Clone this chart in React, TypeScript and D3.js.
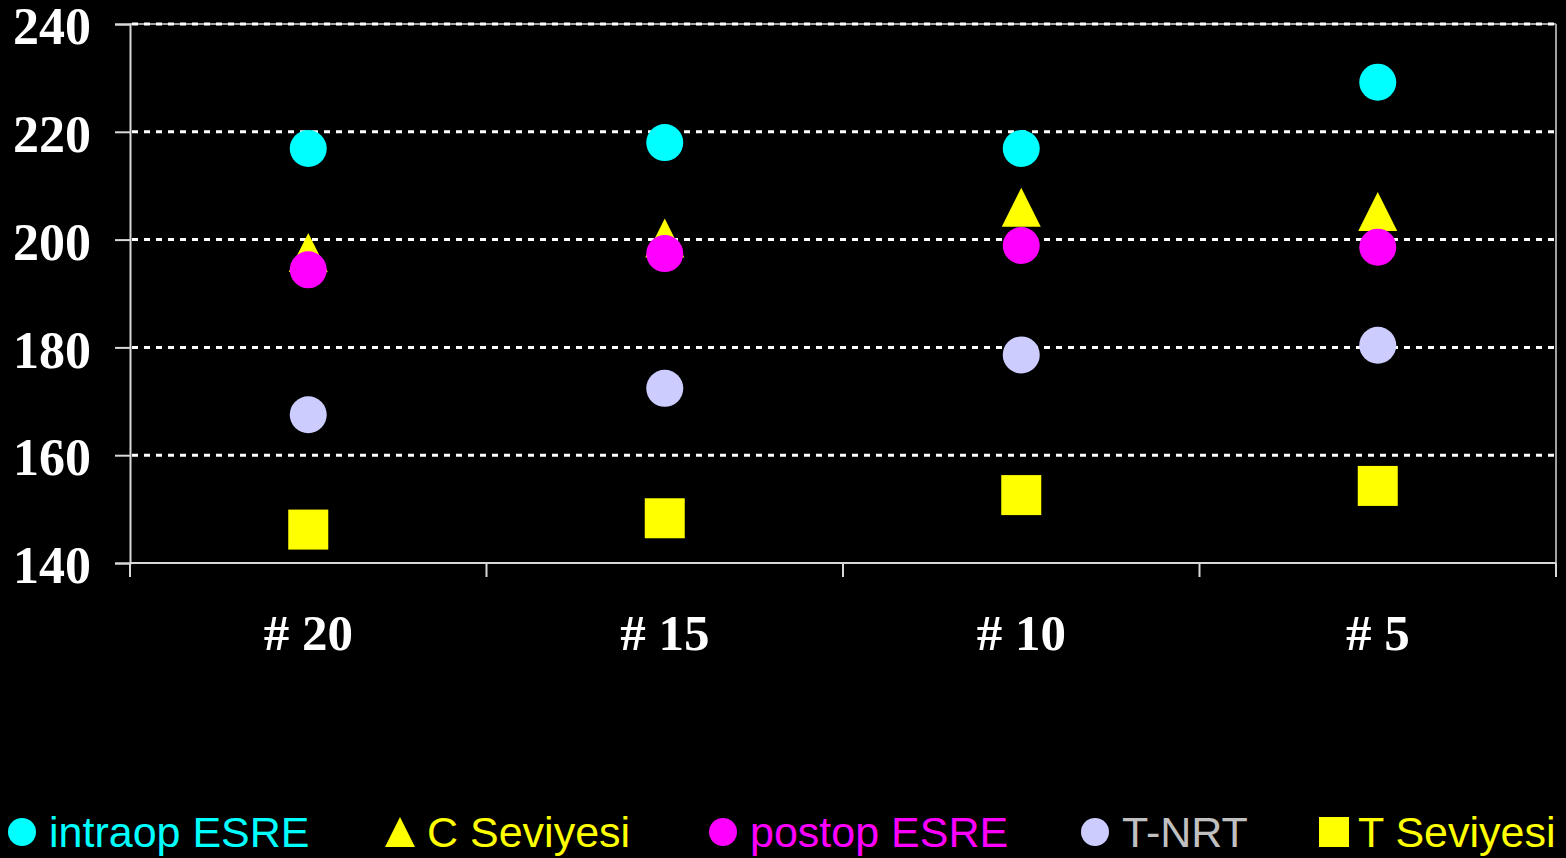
import React, { useRef, useEffect } from 'react';
import * as d3 from 'd3';

// Categories and series
const categories = ["# 20", "# 15", "# 10", "# 5"];
const yTicks = [140, 160, 180, 200, 220, 240];

const intraopESRE = [216.9, 218.0, 216.9, 229.2];
const cSeviyesi = [197.6, 200.3, 206.0, 205.2];
const postopESRE = [194.4, 197.4, 198.9, 198.6];
const tNRT = [167.5, 172.4, 178.6, 180.4];
const tSeviyesi = [146.2, 148.3, 152.6, 154.3];

const seriesNames = ["intraop ESRE", "C Seviyesi", "postop ESRE", "T-NRT", "T Seviyesi"];
const seriesValues = [intraopESRE, cSeviyesi, postopESRE, tNRT, tSeviyesi];
const seriesShapes = ["circle", "triangle", "circle", "circle", "square"];
const seriesColors = ["#00ffff", "#ffff00", "#ff00ff", "#ccccff", "#ffff00"];
const legendTextColors = ["#00ffff", "#ffff00", "#ff00ff", "#c0c0c0", "#ffff00"];

export default function App() {
  const svgRef = useRef<SVGSVGElement | null>(null);

  useEffect(() => {
    if (!svgRef.current) return;
    const svg = d3.select(svgRef.current);
    svg.selectAll("*").remove();

    const width = 1566;
    const height = 858;
    const margin = { top: 24, right: 10, bottom: 295, left: 130 };
    const axisColor = "#d8d8d8";

    svg.attr("width", width).attr("height", height);
    svg.append("rect").attr("width", width).attr("height", height).attr("fill", "#000");

    const x = d3.scaleBand()
      .domain(categories)
      .range([margin.left, width - margin.right])
      .padding(0);

    const y = d3.scaleLinear()
      .domain([140, 240])
      .range([height - margin.bottom, margin.top]);

    const x0 = margin.left;
    const x1 = width - margin.right;
    const yBottom = y(140);
    const yTop = y(240);

    // plot frame (top and right)
    svg.append("line")
      .attr("x1", x0).attr("x2", x1).attr("y1", yTop).attr("y2", yTop)
      .attr("stroke", "#a0a0a0").attr("stroke-width", 2);
    svg.append("line")
      .attr("x1", x1).attr("x2", x1).attr("y1", yTop).attr("y2", yBottom)
      .attr("stroke", "#a0a0a0").attr("stroke-width", 2);

    // dotted gridlines
    svg.append("g")
      .selectAll("line")
      .data(yTicks.filter(t => t !== 140))
      .enter()
      .append("line")
      .attr("x1", x0 + 2)
      .attr("x2", x1)
      .attr("y1", d => y(d))
      .attr("y2", d => y(d))
      .attr("stroke", "#fff")
      .attr("stroke-width", 3)
      .attr("stroke-dasharray", "6,6");

    // Y axis
    const yAxis = d3.axisLeft(y).tickValues(yTicks).tickSize(15).tickPadding(24);
    svg.append("g")
      .attr("transform", `translate(${x0},0)`)
      .call(yAxis)
      .call(g => g.select(".domain").attr("stroke", axisColor).attr("stroke-width", 2))
      .call(g => g.selectAll(".tick line").attr("stroke", axisColor).attr("stroke-width", 2))
      .selectAll("text")
      .attr("fill", "#fff")
      .attr("font-family", "'Liberation Serif', 'Times New Roman', serif")
      .attr("font-weight", "bold")
      .attr("font-size", "52px")
      .attr("dy", "0.38em");

    // X axis: ticks on band boundaries, labels in band centres
    svg.append("line")
      .attr("x1", x0).attr("x2", x1).attr("y1", yBottom).attr("y2", yBottom)
      .attr("stroke", axisColor).attr("stroke-width", 2);
    const boundaries = categories.map(c => x(c) as number).concat([x1]);
    svg.append("g")
      .selectAll("line")
      .data(boundaries)
      .enter()
      .append("line")
      .attr("x1", d => d).attr("x2", d => d)
      .attr("y1", yBottom).attr("y2", yBottom + 14)
      .attr("stroke", axisColor).attr("stroke-width", 2);
    svg.append("g")
      .selectAll("text")
      .data(categories)
      .enter()
      .append("text")
      .attr("x", d => (x(d) as number) + x.bandwidth() / 2)
      .attr("y", yBottom + 87)
      .attr("text-anchor", "middle")
      .attr("fill", "#fff")
      .attr("font-family", "'Liberation Serif', 'Times New Roman', serif")
      .attr("font-weight", "bold")
      .attr("font-size", "51px")
      .text(d => d);

    const drawMarker = (
      g: d3.Selection<SVGGElement, unknown, null, undefined>,
      shape: string, cx: number, cy: number, size: number, color: string
    ) => {
      if (shape === "circle") {
        g.append("circle").attr("cx", cx).attr("cy", cy).attr("r", size / 2).attr("fill", color);
      } else if (shape === "square") {
        g.append("rect").attr("x", cx - size / 2).attr("y", cy - size / 2)
          .attr("width", size).attr("height", size).attr("fill", color);
      } else {
        const h = size;
        const w = size;
        g.append("path")
          .attr("d", `M${cx},${cy - h / 2}L${cx + w / 2},${cy + h / 2}L${cx - w / 2},${cy + h / 2}Z`)
          .attr("fill", color);
      }
    };

    // Series markers
    const markerSize: Record<string, number> = { circle: 37, square: 40, triangle: 39 };
    seriesValues.forEach((vals, si) => {
      const g = svg.append("g");
      vals.forEach((v, i) => {
        const cx = (x(categories[i]) as number) + x.bandwidth() / 2;
        drawMarker(g, seriesShapes[si], cx, y(v), markerSize[seriesShapes[si]], seriesColors[si]);
      });
    });

    // Legend
    const legendX = [22, 400, 723, 1095, 1334];
    const legendY = 832;
    const legend = svg.append("g");
    seriesNames.forEach((name, i) => {
      const shape = seriesShapes[i];
      drawMarker(legend, shape, legendX[i], legendY, shape === "circle" ? 28 : 30, seriesColors[i]);
      legend.append("text")
        .attr("x", legendX[i] + (shape === "square" ? 24 : 27))
        .attr("y", legendY + 15)
        .attr("fill", legendTextColors[i])
        .attr("font-family", "'Liberation Sans', Arial, sans-serif")
        .attr("font-size", "43px")
        .text(name);
    });
  }, []);

  return (
    <svg ref={svgRef} style={{ position: "absolute", left: 0, top: 0, display: "block" }} />
  );
}
